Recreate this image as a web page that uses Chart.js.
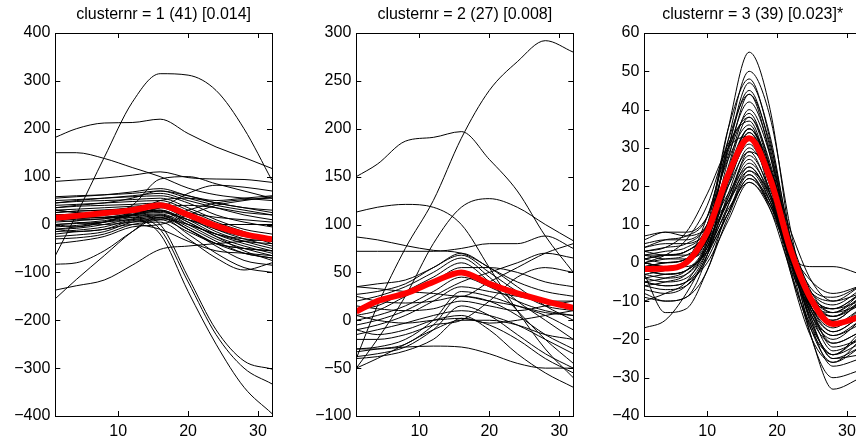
<!DOCTYPE html>
<html>
<head>
<meta charset="utf-8">
<script src="https://cdn.jsdelivr.net/npm/chart.js@4/dist/chart.umd.min.js"></script>
<style>
  html, body { margin: 0; padding: 0; background: #fff; overflow: hidden; width: 856px; height: 445px; }
  canvas { position: absolute; top: 0; }
</style>
</head>
<body>
<canvas id="c1" width="290" height="445" style="left:0px"></canvas>
<canvas id="c2" width="300" height="445" style="left:290px"></canvas>
<canvas id="c3" width="300" height="445" style="left:576px"></canvas>
<script>
// sample positions (time index) for each panel
const xs1 = [1, 4, 8, 12, 16, 20, 24, 28, 32];
const xs2 = [1, 4, 8, 12, 16, 20, 24, 28, 32];
const xs3 = [1, 4, 7, 10, 13, 16, 19, 22, 25, 28, 32];

const xTicks = [10, 20, 30];

// cluster 1: 41 profiles + mean
const cluster1Curves = [
  [-65, 20, 140, 255, 315, 312, 280, 200, 92],
  [182, 200, 212, 213, 220, 190, 162, 140, 117],
  [150, 150, 138, 119, 100, 76, 62, 55, 50],
  [90, 93, 97, 103, 110, 98, 95, 94, 88],
  [30, 25, 20, 40, 95, 100, 85, 70, 55],
  [-137, -128, -116, -85, -52, -45, -40, -35, -30],
  [-83, -80, -55, -15, 15, -10, -40, -60, -70],
  [-155, -115, -65, -15, 20, -10, -40, -50, -55],
  [0, 2, 5, 10, -20, -140, -250, -340, -395],
  [15, 15, 15, 15, -10, -120, -230, -300, -333],
  [-10, -5, 5, 20, 0, -110, -220, -285, -302],
  [20, 20, 22, 25, 35, 65, 82, 78, 70],
  [58, 60, 62, 65, 70, 55, 40, 30, 20],
  [55, 58, 62, 68, 75, 60, 50, 55, 60],
  [50, 52, 55, 58, 60, 45, 20, 5, -5],
  [45, 48, 50, 52, 55, 35, 10, -10, -20],
  [40, 42, 45, 48, 50, 30, 5, -15, -35],
  [35, 38, 40, 42, 45, 25, 0, -20, -40],
  [30, 32, 35, 38, 42, 20, -10, -30, -45],
  [25, 28, 30, 33, 38, 15, -15, -35, -50],
  [20, 22, 25, 30, 35, 10, -20, -40, -55],
  [15, 18, 20, 25, 30, 5, -25, -45, -60],
  [10, 12, 15, 22, 28, 0, -30, -50, -65],
  [5, 8, 12, 20, 25, 10, -10, -25, -30],
  [0, 3, 8, 18, 22, 0, -20, -35, -40],
  [-5, -2, 5, 15, 20, -5, -35, -60, -70],
  [-10, -8, 0, 12, 18, -10, -45, -75, -85],
  [-15, -12, -5, 10, 15, -20, -60, -90, -100],
  [-20, -15, -10, 8, 12, 0, -20, -30, -35],
  [-25, -22, -15, 5, 10, -15, -40, -50, -55],
  [-30, -28, -20, 0, 5, -30, -70, -95, -80],
  [-40, -35, -25, -5, 0, 20, 40, 50, 58],
  [10, 5, 0, 5, 10, 30, 45, 52, 55],
  [20, 18, 15, 25, 50, 55, 45, 35, 30],
  [35, 40, 45, 55, 70, 60, 45, 35, 25],
  [45, 50, 55, 60, 65, 50, 35, 20, 10],
  [0, -5, 5, 20, 35, 40, 35, 25, 20],
  [-10, -15, -10, 0, -10, -35, -55, -60, -65],
  [30, 25, 20, 25, 30, 10, 0, 0, 0],
  [25, 28, 30, 35, 40, 25, 15, 10, 5],
  [15, 10, 12, 20, 28, 5, -25, -55, -75]
];
const cluster1Mean = [14, 18, 24, 30, 40, 20, -3, -20, -31];

// cluster 2: 27 profiles + mean
const cluster2Curves = [
  [-40, 15, 75, 125, 190, 240, 270, 292, 280],
  [-50, -20, 25, 80, 118, 127, 118, 100, 83],
  [150, 163, 187, 191, 197, 168, 135, 88, 50],
  [113, 118, 121, 118, 100, 55, 10, -30, -60],
  [87, 84, 78, 73, 70, 55, 35, 15, 0],
  [72, 72, 72, 72, 75, 80, 80, 88, 75],
  [35, 38, 42, 55, 70, 55, 40, 30, 25],
  [27, 30, 38, 55, 68, 50, 30, 15, 10],
  [20, 25, 35, 50, 65, 45, 20, 0, -20],
  [12, 15, 30, 45, 60, 40, 10, -20, -45],
  [5, 10, 25, 40, 55, 55, 50, 40, 35],
  [0, 5, 15, 30, 45, 35, 20, 10, 5],
  [-5, 0, 10, 25, 40, 50, 60, 70, 65],
  [-10, -5, 5, 20, 35, 30, 25, 20, 20],
  [-30, -28, -20, 0, 30, 25, 15, 5, -10],
  [-33, -30, -25, -5, 25, 20, 5, -15, -30],
  [-38, -35, -28, -10, 15, 5, -15, -35, -50],
  [-40, -38, -32, -20, 2, -5, -20, -40, -55],
  [-50, -40, -25, -10, 0, 0, -5, -15, -20],
  [-30, -30, -28, -27, -28, -35, -45, -50, -50],
  [15, 12, 10, 12, 20, 15, 10, 15, 20],
  [25, 20, 18, 20, 25, 20, 15, 8, 5],
  [35, 33, 30, 28, 25, 40, 55, 70, 80],
  [-15, -10, -3, 5, 10, 5, -5, -20, -35],
  [-10, -15, -10, 0, 5, -10, -35, -55, -70],
  [5, 0, -3, 0, 2, -3, 0, 5, 10],
  [-20, -20, -15, -5, 0, 20, 45, 55, 50]
];
const cluster2Mean = [9, 20, 28, 40, 50, 38, 28, 20, 13];

// cluster 3: 39 profiles + mean
const cluster3Curves = [
  [-3, -2, 0, 8, 35, 55, 40, 5, -20, -30, -28],
  [-5, -4, -2, 6, 32, 50, 38, 8, -15, -25, -22],
  [2, 3, 4, 10, 35, 48, 32, 2, -18, -26, -20],
  [0, 1, 2, 8, 30, 47, 33, 4, -16, -24, -18],
  [-2, -1, 0, 7, 30, 45, 30, 3, -17, -27, -25],
  [4, 6, 7, 12, 32, 44, 28, 0, -20, -33, -30],
  [-6, -5, -3, 5, 27, 44, 31, 6, -12, -22, -20],
  [1, 2, 3, 9, 29, 42, 29, 3, -14, -20, -15],
  [-4, -3, -2, 5, 25, 40, 28, 4, -13, -19, -16],
  [3, 4, 5, 10, 28, 39, 25, 1, -15, -21, -18],
  [-8, -10, -9, 2, 24, 38, 26, 3, -12, -18, -14],
  [6, 8, 8, 12, 27, 36, 22, 0, -14, -19, -15],
  [-1, 0, 1, 6, 23, 35, 24, 4, -10, -16, -13],
  [2, 2, 3, 8, 24, 35, 23, 2, -12, -17, -12],
  [-3, -4, -3, 4, 22, 35, 25, 5, -9, -14, -11],
  [0, -1, 0, 6, 22, 34, 22, 2, -11, -15, -10],
  [-5, -6, -5, 3, 21, 34, 24, 6, -8, -13, -11],
  [5, 6, 6, 10, 24, 33, 20, -1, -13, -18, -14],
  [-2, -3, -2, 4, 20, 32, 22, 3, -10, -14, -10],
  [1, 0, 1, 6, 21, 31, 20, 1, -12, -16, -12],
  [-7, -8, -6, 2, 18, 30, 21, 4, -9, -13, -9],
  [3, 2, 3, 8, 20, 29, 18, 0, -11, -13, -8],
  [-4, -5, -4, 3, 17, 28, 19, 3, -8, -11, -7],
  [0, -1, 0, 5, 17, 27, 17, 1, -10, -12, -8],
  [-10, -8, -5, 4, 16, 26, 18, 2, -9, -12, -10],
  [4, 5, 5, 8, 18, 25, 16, 0, -8, -10, -6],
  [-2, -3, -2, 3, 15, 25, 17, 3, -5, -8, -6],
  [1, 2, 2, 6, 16, 24, 16, 2, -1, -1, -3],
  [-6, -7, -6, 1, 13, 24, 18, 4, -7, -9, -6],
  [7, 8, 7, 9, 16, 23, 14, -2, -12, -15, -10],
  [-17, -15, -8, 2, 13, 23, 15, 0, -11, -14, -9],
  [-3, -13, -12, -2, 12, 22, 16, 2, -9, -12, -8],
  [0, -1, -1, 3, 13, 22, 15, 1, -14, -23, -20],
  [2, 1, 1, 4, 14, 21, 14, 0, -16, -25, -24],
  [-5, -6, -5, 0, 11, 21, 15, 3, -13, -21, -18],
  [-1, 0, 1, 12, 30, 38, 24, -2, -18, -24, -19],
  [0, 2, 6, 15, 31, 37, 22, -3, -20, -26, -22],
  [-9, -10, -9, -2, 15, 29, 24, 8, -5, -10, -8],
  [3, 4, 8, 18, 30, 33, 18, -3, -17, -24, -21]
];
const cluster3Mean = [-1.6, -1.5, 0, 8, 23, 32.5, 22, 3, -10, -16, -14];

const FONT = '"Liberation Sans", Arial, Helvetica, sans-serif';

// minus sign like matlab
function fmt(v) {
  return v < 0 ? '\u2212' + Math.abs(v) : String(v);
}

// box + inward tick marks + title
const matlabFrame = {
  id: 'matlabFrame',
  afterDraw(chart, args, opts) {
    const { ctx, chartArea: a, scales } = chart;
    const len = 5;
    ctx.save();
    ctx.strokeStyle = '#000';
    ctx.lineWidth = 1;
    ctx.strokeRect(Math.round(a.left) + 0.5, Math.round(a.top) + 0.5,
      Math.round(a.right - a.left), Math.round(a.bottom - a.top));
    ctx.beginPath();
    scales.x.ticks.forEach(t => {
      const px = Math.round(scales.x.getPixelForValue(t.value)) + 0.5;
      ctx.moveTo(px, a.bottom); ctx.lineTo(px, a.bottom - len);
      ctx.moveTo(px, a.top); ctx.lineTo(px, a.top + len);
    });
    scales.y.ticks.forEach(t => {
      const py = Math.round(scales.y.getPixelForValue(t.value)) + 0.5;
      ctx.moveTo(a.left, py); ctx.lineTo(a.left + len, py);
      ctx.moveTo(a.right, py); ctx.lineTo(a.right - len, py);
    });
    ctx.stroke();
    ctx.fillStyle = '#000';
    ctx.font = '16px ' + FONT;
    ctx.textAlign = 'center';
    ctx.textBaseline = 'middle';
    ctx.fillText(opts.text, (a.left + a.right) / 2, 15);
    ctx.restore();
  }
};

function makePanel(id, title, xs, curves, mean, yMin, yMax, yStep, yWidth, padRight) {
  const datasets = curves.map(c => ({
    data: c.map((v, i) => ({ x: xs[i], y: v })),
    borderColor: '#000',
    borderWidth: 1,
    pointRadius: 0,
    cubicInterpolationMode: 'monotone',
    order: 1
  }));
  datasets.push({
    data: mean.map((v, i) => ({ x: xs[i], y: v })),
    borderColor: '#ff0000',
    borderWidth: 6,
    pointRadius: 0,
    cubicInterpolationMode: 'monotone',
    order: 0
  });

  return new Chart(document.getElementById(id), {
    type: 'line',
    data: { datasets },
    options: {
      responsive: false,
      animation: false,
      events: [],
      layout: { padding: { top: 33, right: padRight, bottom: 0, left: 0 } },
      plugins: {
        legend: { display: false },
        tooltip: { enabled: false },
        title: { display: false },
        matlabFrame: { text: title }
      },
      scales: {
        x: {
          type: 'linear',
          min: 1,
          max: 32,
          afterBuildTicks: s => { s.ticks = xTicks.map(v => ({ value: v })); },
          afterFit: s => { s.height = 29; },
          grid: { display: false, drawTicks: false },
          border: { display: false },
          ticks: { color: '#000', padding: 6, font: { family: FONT, size: 16 }, callback: fmt }
        },
        y: {
          min: yMin,
          max: yMax,
          afterFit: s => { s.width = yWidth; },
          grid: { display: false, drawTicks: false },
          border: { display: false },
          ticks: { color: '#000', stepSize: yStep, padding: 5, font: { family: FONT, size: 16 }, callback: fmt }
        }
      }
    },
    plugins: [matlabFrame]
  });
}

makePanel('c1', 'clusternr = 1 (41) [0.014]', xs1, cluster1Curves, cluster1Mean, -400, 400, 100, 55.3, 18);
makePanel('c2', 'clusternr = 2 (27) [0.008]', xs2, cluster2Curves, cluster2Mean, -100, 300, 50, 66.3, 16.7);
makePanel('c3', 'clusternr = 3 (39) [0.023]*', xs3, cluster3Curves, cluster3Mean, -40, 60, 10, 68.3, 15);
</script>
</body>
</html>
